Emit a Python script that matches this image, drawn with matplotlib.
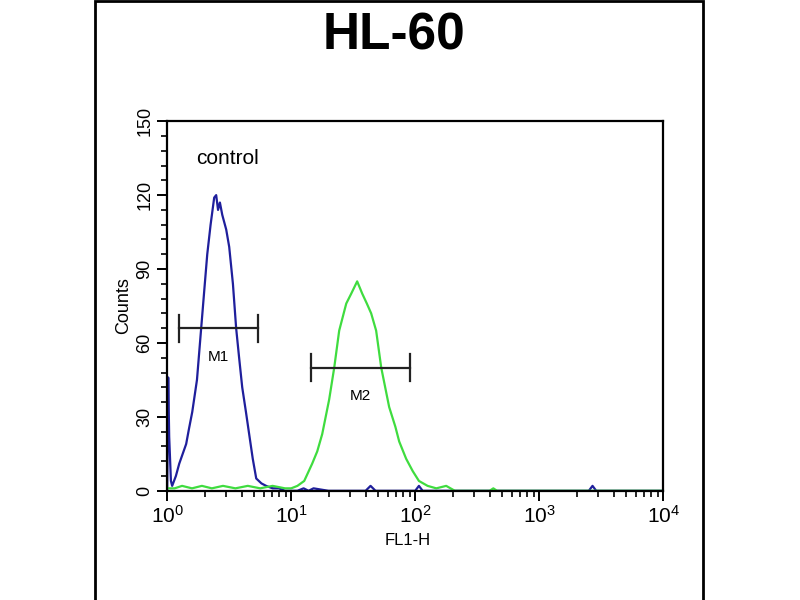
import numpy as np
import matplotlib.pyplot as plt
from matplotlib.ticker import FixedLocator, LogLocator, NullFormatter
from matplotlib.patches import Rectangle

plt.rcParams['font.family'] = ['Liberation Sans', 'DejaVu Sans']

# histogram traces (x as log10 of FL1-H)
control_logx = [0.0, 0.008, 0.016, 0.03, 0.04, 0.07, 0.097, 0.125, 0.153, 0.175,
                0.202, 0.24, 0.274, 0.30, 0.323, 0.35, 0.379, 0.395, 0.41, 0.425,
                0.444, 0.46, 0.476, 0.5, 0.53, 0.556, 0.58, 0.605, 0.635, 0.661,
                0.69, 0.718, 0.76, 0.798, 0.85, 0.9, 0.95, 1.0, 1.05, 1.1,
                1.14, 1.18, 1.3, 1.6, 1.64, 1.68, 2.0, 2.03, 2.06, 3.4,
                3.43, 3.46, 4.0]
control_counts = [0, 46, 22, 4, 2, 6, 11, 15, 19, 25,
                  32, 45, 66, 82, 96, 108, 119, 120, 114, 117,
                  112, 109, 106, 99, 84, 66, 54, 42, 32, 23,
                  13, 5, 3, 2, 1, 1, 0, 0, 0, 1,
                  0, 1, 0, 0, 2, 0, 0, 2, 0, 0,
                  2, 0, 0]

sample_logx = [0.0, 0.06, 0.12, 0.2, 0.28, 0.36, 0.45, 0.55, 0.65, 0.75,
               0.85, 0.95, 1.0, 1.05, 1.105, 1.169, 1.21, 1.25, 1.306, 1.347,
               1.387, 1.444, 1.484, 1.532, 1.573, 1.61, 1.645, 1.685, 1.726, 1.79,
               1.84, 1.871, 1.927, 1.98, 2.03, 2.1, 2.17, 2.25, 2.32, 2.6,
               2.63, 2.66, 4.0]
sample_counts = [1, 1, 2, 1, 2, 1, 2, 1, 2, 1,
                 2, 1, 1, 2, 4, 11, 16, 23, 37, 50,
                 65, 76, 80, 85, 80, 76, 72, 65, 50, 34,
                 26, 20, 13, 8, 4, 2, 1, 2, 0, 0,
                 1, 0, 0]

# marker gates: (left, right, height)
gate_names = ['M1', 'M2']
gate_left = [1.25, 14.5]
gate_right = [5.4, 90]
gate_level = [66, 50]

fig = plt.figure(figsize=(8, 6), dpi=100)
fig.patches.append(Rectangle((95 / 800, -0.01), 608 / 800, 1.008, transform=fig.transFigure,
                             fill=False, edgecolor='black', linewidth=2))
fig.text(0.493, 0.940, 'HL-60', ha='center', va='center', fontsize=37, fontweight='bold')

ax = fig.add_axes([0.209, 0.182, 0.620, 0.616])
ax.plot(10 ** np.array(control_logx), control_counts, color='#1f1f9c', linewidth=1.6)
ax.plot(10 ** np.array(sample_logx), sample_counts, color='#3fdc3f', linewidth=1.6)

for name, lo, hi, lev in zip(gate_names, gate_left, gate_right, gate_level):
    ax.plot([lo, hi], [lev, lev], color='#222222', linewidth=1.6)
    ax.plot([lo, lo], [lev - 5.5, lev + 5.5], color='#222222', linewidth=1.6)
    ax.plot([hi, hi], [lev - 5.5, lev + 5.5], color='#222222', linewidth=1.6)
    ax.text(np.sqrt(lo * hi), lev - 11.5, name, ha='center', va='center', fontsize=11)

ax.text(1.7, 135, 'control', fontsize=15, va='center')

ax.set_xscale('log')
ax.set_xlim(1, 10000)
ax.set_ylim(0, 150)
ax.xaxis.set_minor_locator(LogLocator(base=10, subs=np.arange(2, 10)))
ax.xaxis.set_minor_formatter(NullFormatter())
ax.yaxis.set_major_locator(FixedLocator([0, 30, 60, 90, 120, 150]))
ax.yaxis.set_minor_locator(FixedLocator(np.arange(0, 151, 6)))
ax.tick_params(which='major', length=7, width=1.4)
ax.tick_params(which='minor', length=4, width=1.2)
ax.tick_params(axis='x', labelsize=15, pad=3)
ax.tick_params(axis='y', labelsize=13, pad=3)
for lab in ax.get_yticklabels():
    lab.set_rotation(90)
    lab.set_va('center')
for s in ax.spines.values():
    s.set_linewidth(1.6)
ax.set_xlabel('FL1-H', fontsize=12)
ax.xaxis.set_label_coords(0.485, -0.115)
ax.set_ylabel('Counts', fontsize=13, labelpad=3)

plt.savefig('out.png', dpi=100)
